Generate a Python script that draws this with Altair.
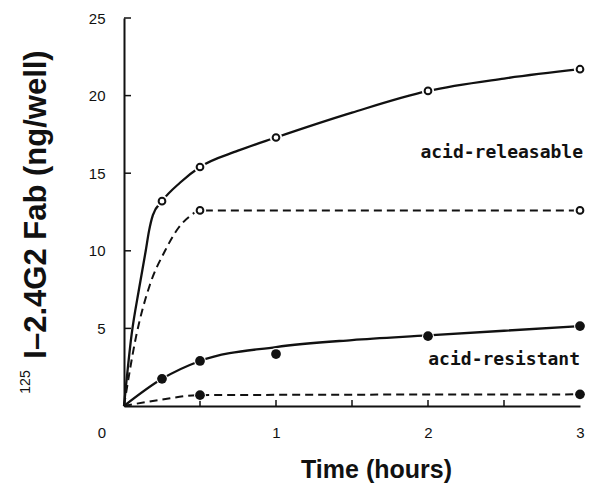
import altair as alt
import pandas as pd

# Measured points (time in hours, 125I-2.4G2 Fab in ng/well)
point_time = [0.25, 0.5, 1, 2, 3]
open_total = [13.2, 15.4, 17.3, 20.3, 21.7]
filled_total = [1.75, 2.9, 3.35, 4.5, 5.15]
plateau_time = [0.5, 3]
open_plateau = [12.6, 12.6]
filled_plateau = [0.7, 0.75]

# Drawn curves
solid_upper_time = [0, 0.05, 0.1, 0.143, 0.165, 0.19, 0.25, 0.37, 0.5, 0.75, 1, 1.5, 2, 2.5, 3]
solid_upper_val = [0, 4.6, 7.6, 10.0, 11.3, 12.3, 13.2, 14.4, 15.4, 16.45, 17.3, 18.9, 20.3, 21.1, 21.7]
dashed_upper_time = [0, 0.08, 0.17, 0.27, 0.36, 0.43, 0.5, 3]
dashed_upper_val = [0, 4.5, 7.8, 10.0, 11.5, 12.2, 12.6, 12.6]
solid_lower_time = [0, 0.25, 0.5, 1, 1.5, 2, 3]
solid_lower_val = [0, 1.75, 2.9, 3.8, 4.25, 4.55, 5.15]
dashed_lower_time = [0, 0.25, 0.5, 3]
dashed_lower_val = [0, 0.42, 0.7, 0.75]

x_label_values = [1, 2, 3]
y_label_values = [5, 10, 15, 20, 25]
x_tick_values = [0.5, 1, 1.5, 2, 2.5]

W, H = 456, 388
INK = "#111111"
TITLE_FONT = "Liberation Sans"
LABEL_FONT = "DejaVu Sans Mono"


def curve_frame(pairs):
    rows = []
    for name, ts, vs in pairs:
        rows += [{"time": t, "value": v, "curve": name} for t, v in zip(ts, vs)]
    return pd.DataFrame(rows)


solid_df = curve_frame([
    ("upper", solid_upper_time, solid_upper_val),
    ("lower", solid_lower_time, solid_lower_val),
])
dashed_df = curve_frame([
    ("upper", dashed_upper_time, dashed_upper_val),
    ("lower", dashed_lower_time, dashed_lower_val),
])
open_df = pd.DataFrame({
    "time": point_time + plateau_time,
    "value": open_total + open_plateau,
})
filled_df = pd.DataFrame({
    "time": point_time + plateau_time,
    "value": filled_total + filled_plateau,
})
xtick_df = pd.DataFrame({"time": x_tick_values})
ytick_df = pd.DataFrame({"value": y_label_values})

x_scale = alt.Scale(domain=[0, 3], nice=False, zero=False)
y_scale = alt.Scale(domain=[0, 25], nice=False)

x_axis = alt.Axis(
    values=x_label_values, format="d", ticks=False, grid=False,
    domainColor=INK, domainWidth=2,
    labelFont="Liberation Sans", labelFontSize=15, labelColor=INK,
    labelPadding=19, labelFlush=False,
    title="Time (hours)", titleFont=TITLE_FONT, titleFontSize=25,
    titleFontWeight="bold", titleColor=INK,
    titleX=252, titleY=71, titleAnchor="middle", titleAlign="center",
    titleBaseline="alphabetic",
)
y_axis = alt.Axis(
    values=y_label_values, ticks=False, grid=False,
    domainColor=INK, domainWidth=2,
    labelFont="Liberation Sans", labelFontSize=15, labelColor=INK,
    labelPadding=19,
    title="I\u20132.4G2 Fab (ng/well)", titleFont=TITLE_FONT, titleFontSize=31,
    titleFontWeight="bold", titleColor=INK,
    titleAngle=270, titleX=-79, titleY=186, titleAlign="center",
    titleBaseline="alphabetic",
)

X = alt.X("time:Q", scale=x_scale, axis=x_axis)
Y = alt.Y("value:Q", scale=y_scale, axis=y_axis)
Xn = alt.X("time:Q", scale=x_scale)
Yn = alt.Y("value:Q", scale=y_scale)

solid_lines = alt.Chart(solid_df).mark_line(
    interpolate="monotone", color=INK, strokeWidth=2.3
).encode(x=X, y=Y, detail="curve:N")

dashed_lines = alt.Chart(dashed_df).mark_line(
    interpolate="monotone", color=INK, strokeWidth=2, strokeDash=[8, 5]
).encode(x=Xn, y=Yn, detail="curve:N")

halo_open = alt.Chart(open_df).mark_point(
    shape="circle", filled=True, color="white", size=150, opacity=1
).encode(x=Xn, y=Yn)
open_pts = alt.Chart(open_df).mark_point(
    shape="circle", filled=False, fill="white", stroke=INK,
    strokeWidth=2, size=45, opacity=1
).encode(x=Xn, y=Yn)

halo_filled = alt.Chart(filled_df).mark_point(
    shape="circle", filled=True, color="white", size=140, opacity=1
).encode(x=Xn, y=Yn)
filled_pts = alt.Chart(filled_df).mark_point(
    shape="circle", filled=True, color=INK, size=95, opacity=1
).encode(x=Xn, y=Yn)

# inward-pointing ticks
x_ticks = alt.Chart(xtick_df).mark_rule(color=INK, strokeWidth=1.5).encode(
    x=Xn, y=alt.value(H), y2=alt.value(H - 6)
)
y_ticks = alt.Chart(ytick_df).mark_rule(color=INK, strokeWidth=1.5).encode(
    y=Yn, x=alt.value(0), x2=alt.value(7)
)

origin_label = alt.Chart().mark_text(
    text="0", font="Liberation Sans", fontSize=15, color=INK,
    align="center", baseline="middle", dx=-22, dy=27
).encode(x=alt.datum(0, scale=x_scale), y=alt.datum(0, scale=y_scale))

isotope = alt.Chart().mark_text(
    text="125", font=TITLE_FONT, fontSize=14, color=INK, angle=270,
    align="center", baseline="alphabetic"
).encode(x=alt.value(-94), y=alt.value(364))

label_releasable = alt.Chart().mark_text(
    text="acid-releasable", font=LABEL_FONT, fontWeight="bold", fontSize=18,
    color=INK, align="right", baseline="alphabetic", dx=3
).encode(x=alt.datum(3, scale=x_scale), y=alt.datum(16.0, scale=y_scale))

label_resistant = alt.Chart().mark_text(
    text="acid-resistant", font=LABEL_FONT, fontWeight="bold", fontSize=18,
    color=INK, align="right", baseline="alphabetic", dx=0
).encode(x=alt.datum(3, scale=x_scale), y=alt.datum(2.65, scale=y_scale))

chart = alt.layer(
    solid_lines, dashed_lines, x_ticks, y_ticks,
    halo_open, halo_filled, open_pts, filled_pts,
    origin_label, isotope, label_releasable, label_resistant,
).properties(
    width=W, height=H,
    autosize=alt.AutoSizeParams(type="none"),
    padding={"left": 124, "top": 18, "right": 12, "bottom": 83},
    background="white",
).configure_view(stroke=None)

chart.save("out.html", embed_options={"renderer": "svg", "actions": False})
